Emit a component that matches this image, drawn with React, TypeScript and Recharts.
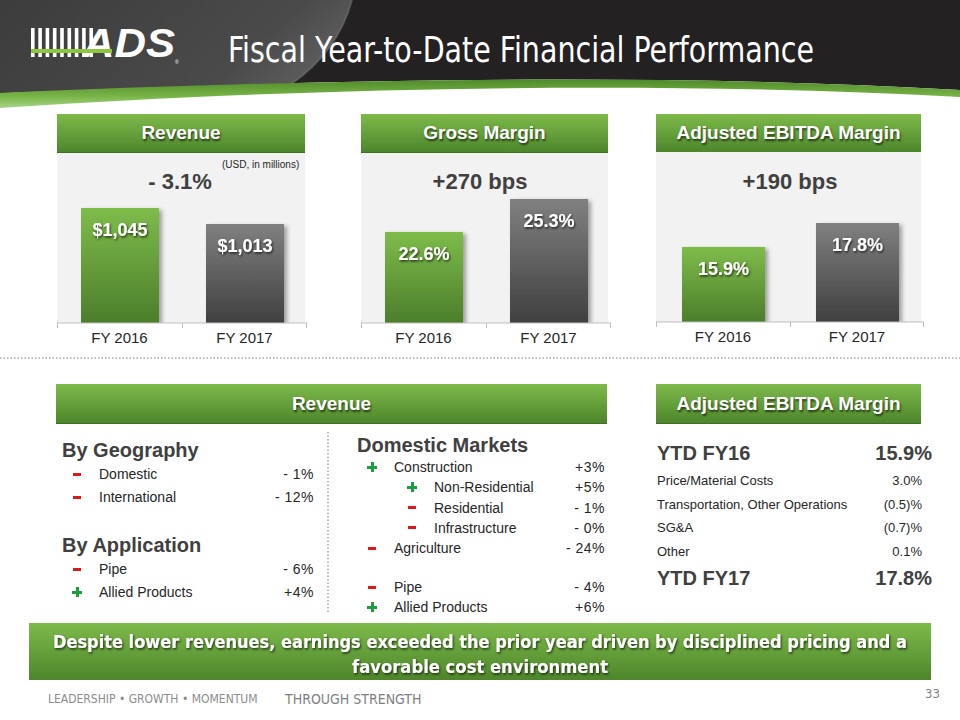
import React from 'react';
import { BarChart, Bar, XAxis, YAxis, Cell, LabelList } from 'recharts';

// chart data
const years = ['FY 2016', 'FY 2017'];
const revenueUsd = [1045, 1013];
const grossMarginPct = [22.6, 25.3];
const ebitdaMarginPct = [15.9, 17.8];
const headlines = ['- 3.1%', '+270 bps', '+190 bps'];

// revenue breakdown
const geographyNames = ['Domestic', 'International'];
const geographyChanges = ['-1%', '-12%'];
const applicationNames = ['Pipe', 'Allied Products'];
const applicationChanges = ['-6%', '+4%'];
const marketNames = ['Construction', 'Non-Residential', 'Residential', 'Infrastructure', 'Agriculture'];
const marketChanges = ['+3%', '+5%', '-1%', '-0%', '-24%'];
const marketLevel = [0, 1, 1, 1, 0];
const domesticProductNames = ['Pipe', 'Allied Products'];
const domesticProductChanges = ['-4%', '+6%'];

// adjusted EBITDA margin bridge
const bridgeStart = 15.9;
const bridgeEnd = 17.8;
const bridgeNames = ['Price/Material Costs', 'Transportation, Other Operations', 'SG&A', 'Other'];
const bridgeValues = [3.0, -0.5, -0.7, 0.1];

const takeaway = [
  'Despite lower revenues, earnings exceeded the prior year driven by disciplined pricing and a',
  'favorable cost environment',
];

const SANS = "'Liberation Sans', Arial, sans-serif";
const NARROW = "'Liberation Sans Narrow', 'DejaVu Sans Condensed', Arial, sans-serif";
const DARK = '#404040';
const GREEN_BAR = 'linear-gradient(#7dba4a, #4d862b)';

const pct = (v: number) => `${v.toFixed(1)}%`;
const bridgePct = (v: number) => (v < 0 ? `(${Math.abs(v).toFixed(1)})%` : `${v.toFixed(1)}%`);
const usd = (v: number) => `$${v.toLocaleString('en-US')}`;
const showChange = (c: string) => c.replace('-', '- ');

// text centred vertically on cy
function T({ x, right, cy, size = 14, bold = false, color = '#262626', family = SANS, children, style = {} }: any) {
  const pos: any = right !== undefined ? { right: 960 - right } : { left: x };
  return (
    <div
      style={{
        position: 'absolute', top: cy, transform: 'translateY(-50%)', lineHeight: 1, whiteSpace: 'nowrap',
        fontSize: size, fontWeight: bold ? 'bold' : 'normal', color, fontFamily: family, ...pos, ...style,
      }}
    >
      {children}
    </div>
  );
}

function Sign({ cx, cy, up }: { cx: number; cy: number; up: boolean }) {
  if (!up) {
    return <div style={{ position: 'absolute', left: cx - 4, top: cy - 1.5, width: 8, height: 3, background: '#e2141c' }} />;
  }
  return (
    <>
      <div style={{ position: 'absolute', left: cx - 5, top: cy - 1.5, width: 10, height: 3, background: '#17a03c' }} />
      <div style={{ position: 'absolute', left: cx - 1.5, top: cy - 5, width: 3, height: 10, background: '#17a03c' }} />
    </>
  );
}

function ChangeRows({ names, changes, levels, startY, step, signX, labelX, indent, right }: any) {
  return (
    <>
      {names.map((name: string, i: number) => {
        const cy = startY + i * step;
        const shift = levels ? levels[i] * indent : 0;
        return (
          <React.Fragment key={name + i}>
            <Sign cx={signX + shift} cy={cy} up={changes[i].startsWith('+')} />
            <T x={labelX + shift} cy={cy}>{name}</T>
            <T right={right} cy={cy} style={{ letterSpacing: 0.5 }}>{showChange(changes[i])}</T>
          </React.Fragment>
        );
      })}
    </>
  );
}

function GreenHeader({ left, top, width, height = 39, label }: any) {
  return (
    <div
      style={{
        position: 'absolute', left, top, width, height, background: GREEN_BAR, color: '#fff',
        fontFamily: SANS, fontWeight: 'bold', fontSize: 19, display: 'flex', alignItems: 'center',
        justifyContent: 'center', textShadow: '1px 2px 2px rgba(0,0,0,0.6)', borderBottom: '1px solid #3f6f22',
        boxSizing: 'border-box',
      }}
    >
      {label}
    </div>
  );
}

function YearTick({ x, y, payload, index, band }: any) {
  const last = index === years.length - 1;
  return (
    <g>
      <line x1={x - band / 2 + 0.5} x2={x - band / 2 + 0.5} y1={y} y2={y + 5} stroke="#bfbfbf" />
      {last && <line x1={x + band / 2 - 0.5} x2={x + band / 2 - 0.5} y1={y} y2={y + 5} stroke="#bfbfbf" />}
      <text x={x} y={y + 20} textAnchor="middle" fontSize={15} fill="#262626" fontFamily={SANS}>
        {payload.value}
      </text>
    </g>
  );
}

function MetricChart({ id, values, domain, barSize, width, format }: any) {
  const data = years.map((year, i) => ({ year, value: values[i] }));
  const band = width / years.length;
  return (
    <BarChart width={width} height={200} data={data} margin={{ top: 0, right: 0, bottom: 0, left: 0 }}>
      <defs>
        <linearGradient id={`${id}-g0`} x1="0" y1="0" x2="0" y2="1">
          <stop offset="0%" stopColor="#7ebc4a" />
          <stop offset="100%" stopColor="#4b7e2b" />
        </linearGradient>
        <linearGradient id={`${id}-g1`} x1="0" y1="0" x2="0" y2="1">
          <stop offset="0%" stopColor="#808080" />
          <stop offset="100%" stopColor="#404040" />
        </linearGradient>
        <filter id={`${id}-bs`} x="-20%" y="-20%" width="150%" height="150%">
          <feDropShadow dx="3" dy="2" stdDeviation="2" floodColor="#000" floodOpacity="0.35" />
        </filter>
        <filter id={`${id}-ts`} x="-20%" y="-40%" width="150%" height="190%">
          <feDropShadow dx="1" dy="1.5" stdDeviation="0.8" floodColor="#000" floodOpacity="0.7" />
        </filter>
      </defs>
      <XAxis
        dataKey="year"
        height={30}
        tickSize={0}
        tickMargin={0}
        tickLine={false}
        interval={0}
        axisLine={{ stroke: '#bfbfbf' }}
        tick={(p: any) => <YearTick {...p} band={band} />}
      />
      <YAxis hide type="number" domain={domain} allowDataOverflow />
      <Bar
        dataKey="value"
        barSize={barSize}
        isAnimationActive={false}
        shape={(p: any) => (
          <rect
            x={p.x}
            y={p.y}
            width={p.width}
            height={p.height}
            fill={`url(#${id}-g${p.index})`}
            filter={`url(#${id}-bs)`}
          />
        )}
      >
        {data.map((d, i) => (
          <Cell key={d.year} fill={`url(#${id}-g${i})`} />
        ))}
        <LabelList
          dataKey="value"
          content={(p: any) => (
            <text
              x={Number(p.x) + Number(p.width) / 2}
              y={Number(p.y) + 28}
              textAnchor="middle"
              fill="#fff"
              fontSize={18}
              fontWeight="bold"
              fontFamily={SANS}
              filter={`url(#${id}-ts)`}
            >
              {format(p.value)}
            </text>
          )}
        />
      </Bar>
    </BarChart>
  );
}

function Header() {
  return (
    <svg width={960} height={112} style={{ position: 'absolute', left: 0, top: 0 }}>
      <defs>
        <linearGradient id="swoosh" x1="0" y1="0" x2="1" y2="0.3">
          <stop offset="0%" stopColor="#3c3c3c" />
          <stop offset="80%" stopColor="#4a4a4a" />
          <stop offset="100%" stopColor="#5a5a5a" />
        </linearGradient>
        <linearGradient id="band" x1="0" y1="0" x2="0" y2="1">
          <stop offset="0%" stopColor="#4f8a2a" />
          <stop offset="60%" stopColor="#79b548" />
          <stop offset="100%" stopColor="#a8d48a" />
        </linearGradient>
      </defs>
      <path d="M0,0 H960 V90 C650,72 300,80 0,93 Z" fill="#242122" />
      <path d="M0,0 H352 Q338,52 290,85 C200,87 90,90 0,93 Z" fill="url(#swoosh)" />
      <path d="M352,0 Q338,52 290,85" fill="none" stroke="#777" strokeOpacity={0.5} strokeWidth={2} />
      <path d="M0,93 C300,80 650,72 960,90 L960,97 C650,80 300,88 0,108 Z" fill="url(#band)" />
      {/* logo */}
      {Array.from({ length: 9 }).map((_, i) => (
        <rect key={i} x={31 + i * 7.3} y={28} width={3.6} height={29} fill="#fff" />
      ))}
      <text x={83} y={57} fontSize={40} fontWeight="bold" fontStyle="italic" fill="#fff" fontFamily={SANS} textLength={92} lengthAdjust="spacingAndGlyphs">
        ADS
      </text>
      <rect x={31} y={49} width={81} height={4} fill="#8dc63f" />
      <text x={175} y={64} fontSize={5} fill="#fff" fontFamily={SANS}>®</text>
      <text x={228} y={62} fontSize={35} fill="#fff" fontFamily={NARROW} textLength={586} lengthAdjust="spacingAndGlyphs">
        Fiscal Year-to-Date Financial Performance
      </text>
    </svg>
  );
}

function Banner() {
  return (
    <div style={{ position: 'absolute', left: 29, top: 623, width: 902, height: 57, background: GREEN_BAR }}>
      <svg width={902} height={57} style={{ position: 'absolute', left: 0, top: 0 }}>
        <defs>
          <filter id="banner-ts" x="-5%" y="-40%" width="110%" height="190%">
            <feDropShadow dx="1" dy="1.5" stdDeviation="1" floodColor="#000" floodOpacity="0.7" />
          </filter>
        </defs>
        <text x={451} y={25} textAnchor="middle" fontSize={18} fontWeight="bold" fill="#fff" fontFamily={NARROW} textLength={854} lengthAdjust="spacingAndGlyphs" filter="url(#banner-ts)">
          {takeaway[0]}
        </text>
        <text x={451} y={50} textAnchor="middle" fontSize={18} fontWeight="bold" fill="#fff" fontFamily={NARROW} textLength={256} lengthAdjust="spacingAndGlyphs" filter="url(#banner-ts)">
          {takeaway[1]}
        </text>
      </svg>
    </div>
  );
}

export default function App() {
  return (
    <div style={{ position: 'absolute', left: 0, top: 0, width: 960, height: 720, background: '#fff', overflow: 'hidden', fontFamily: SANS }}>
      <Header />

      {/* top metric panels */}
      <GreenHeader left={57} top={114} width={248} label="Revenue" />
      <GreenHeader left={361} top={114} width={247} label="Gross Margin" />
      <GreenHeader left={656} top={114} width={265} label="Adjusted EBITDA Margin" />

      <div style={{ position: 'absolute', left: 57, top: 153, width: 248, height: 170, background: '#f2f2f2' }} />
      <div style={{ position: 'absolute', left: 361, top: 153, width: 247, height: 170, background: '#f2f2f2' }} />
      <div style={{ position: 'absolute', left: 656, top: 152, width: 265, height: 170, background: '#f2f2f2' }} />

      <div style={{ position: 'absolute', left: 57, top: 153 }}>
        <MetricChart id="rev" values={revenueUsd} domain={[815, 1155]} barSize={78} width={250} format={usd} />
      </div>
      <div style={{ position: 'absolute', left: 361, top: 153 }}>
        <MetricChart id="gm" values={grossMarginPct} domain={[15.15, 29.06]} barSize={78} width={250} format={pct} />
      </div>
      <div style={{ position: 'absolute', left: 656, top: 152 }}>
        <MetricChart id="em" values={ebitdaMarginPct} domain={[9.96, 23.42]} barSize={83} width={268} format={pct} />
      </div>

      <T x={180} cy={182} size={22} bold color={DARK} style={{ transform: 'translate(-50%, -50%)' }}>{headlines[0]}</T>
      <T x={222} cy={165} size={10} color="#262626">(USD, in millions)</T>
      <T x={480} cy={182} size={22} bold color={DARK} style={{ transform: 'translate(-50%, -50%)' }}>{headlines[1]}</T>
      <T x={790} cy={182} size={22} bold color={DARK} style={{ transform: 'translate(-50%, -50%)' }}>{headlines[2]}</T>

      {/* dotted separators */}
      <svg width={960} height={720} style={{ position: 'absolute', left: 0, top: 0, pointerEvents: 'none' }}>
        <line x1={0} x2={960} y1={358} y2={358} stroke="#a6a6a6" strokeWidth={1.5} strokeDasharray="1.5 2" />
        <line x1={328} x2={328} y1={432} y2={612} stroke="#a6a6a6" strokeWidth={1.5} strokeDasharray="1.5 2" />
      </svg>

      {/* revenue breakdown */}
      <GreenHeader left={56} top={384} width={551} height={40} label="Revenue" />
      <GreenHeader left={656} top={384} width={265} height={40} label="Adjusted EBITDA Margin" />

      <T x={62} cy={450} size={20} bold color={DARK}>By Geography</T>
      <ChangeRows names={geographyNames} changes={geographyChanges} startY={474} step={23} signX={77} labelX={99} right={314} />
      <T x={62} cy={545} size={20} bold color={DARK}>By Application</T>
      <ChangeRows names={applicationNames} changes={applicationChanges} startY={569} step={23} signX={77} labelX={99} right={314} />

      <T x={357} cy={445} size={20} bold color={DARK}>Domestic Markets</T>
      <ChangeRows names={marketNames} changes={marketChanges} levels={marketLevel} indent={40} startY={467} step={20.3} signX={372} labelX={394} right={605} />
      <ChangeRows names={domesticProductNames} changes={domesticProductChanges} startY={587} step={20} signX={372} labelX={394} right={605} />

      {/* EBITDA bridge */}
      <T x={657} cy={453} size={20} bold color={DARK}>YTD FY16</T>
      <T right={932} cy={453} size={20} bold color={DARK}>{pct(bridgeStart)}</T>
      {bridgeNames.map((name, i) => (
        <React.Fragment key={name}>
          <T x={657} cy={480 + i * 23.7} size={13}>{name}</T>
          <T right={922} cy={480 + i * 23.7} size={13}>{bridgePct(bridgeValues[i])}</T>
        </React.Fragment>
      ))}
      <T x={657} cy={578} size={20} bold color={DARK}>YTD FY17</T>
      <T right={932} cy={578} size={20} bold color={DARK}>{pct(bridgeEnd)}</T>

      <Banner />

      {/* footer */}
      <T x={48} cy={699} size={12} color="#8c8c8c" family={NARROW}>LEADERSHIP • GROWTH • MOMENTUM</T>
      <T x={285} cy={699} size={14} color="#7f7f7f" family={NARROW}>THROUGH STRENGTH</T>
      <T right={940} cy={693} size={13} color="#7f7f7f" family={NARROW}>33</T>
    </div>
  );
}
